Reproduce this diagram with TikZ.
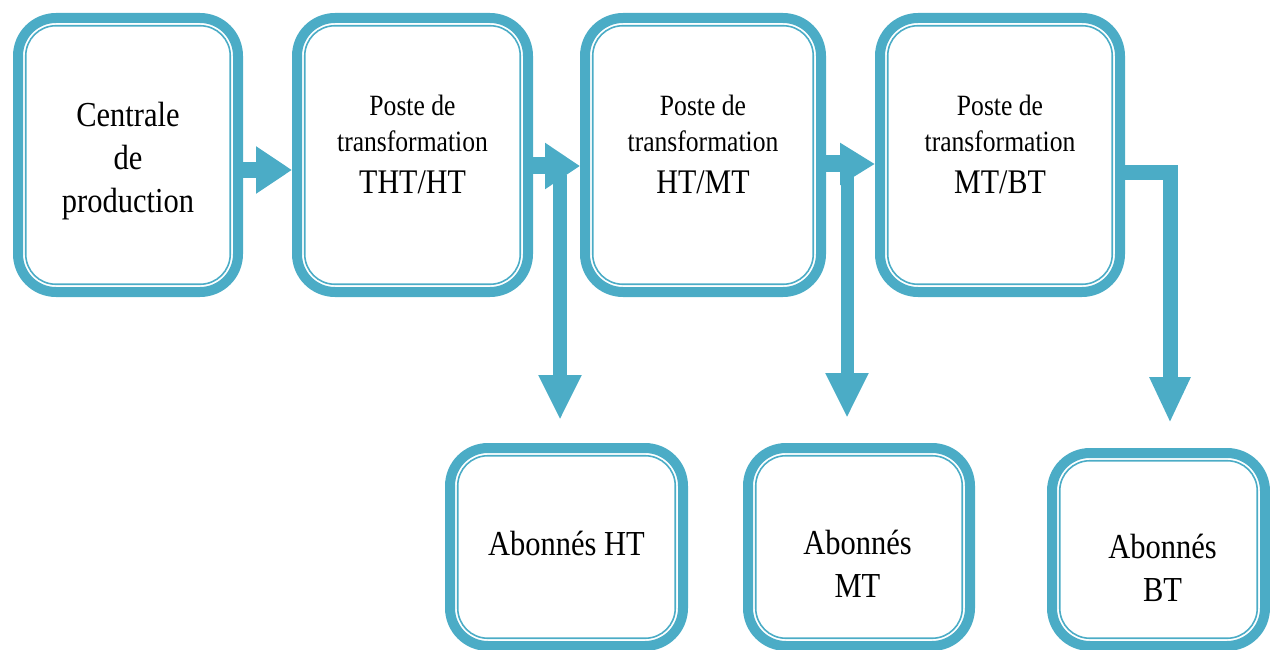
\documentclass[tikz,border=0pt]{standalone}
\usepackage{fontspec}
\setmainfont{Liberation Serif}
\usepackage{graphicx}
\usetikzlibrary{arrows.meta}
\definecolor{aqua}{RGB}{75,172,198}
% slightly tall lettering
\newcommand\tall[1]{\scalebox{1}[1.15]{#1}}

\tikzset{
  stage/.style={draw=aqua, line width=10pt, rounded corners=38pt, inner sep=0pt,
    path picture={\draw[aqua, line width=1.6pt, rounded corners=30pt]
      ([shift={(7.75pt,-7.75pt)}]path picture bounding box.north west) rectangle
      ([shift={(-7.75pt,7.75pt)}]path picture bounding box.south east);}},
  big/.style={font=\fontsize{30.5}{43}\selectfont, align=center, text=black},
  small/.style={font=\fontsize{25.6}{36}\selectfont, align=center, text=black},
  flow/.style={draw=aqua, line width=17pt, -{Triangle[width=44pt,length=35pt]}},
  drop/.style={draw=aqua, line width=14pt, -{Triangle[width=40pt,length=45pt]}},
}

\begin{document}
\begin{tikzpicture}[x=1pt, y=-1pt]
\useasboundingbox (0,0) rectangle (1270,650);

% production chain
\node[stage, minimum width=220pt, minimum height=274pt,
  label={[big, yshift=-6.5pt]center:{\tall{Centrale}\\\tall{de}\\\tall{production}}}]
  (cp) at (128,155) {};
\node[stage, minimum width=231pt, minimum height=274pt,
  label={[small, yshift=10.5pt]center:{\tall{Poste de}\\\tall{transformation}\\[6pt]{\fontsize{30}{42}\selectfont\tall{THT/HT}}}}]
  (p1) at (412.5,155) {};
\node[stage, minimum width=236pt, minimum height=274pt,
  label={[small, yshift=10.5pt]center:{\tall{Poste de}\\\tall{transformation}\\[6pt]{\fontsize{30}{42}\selectfont\tall{HT/MT}}}}]
  (p2) at (703,155) {};
\node[stage, minimum width=240pt, minimum height=274pt,
  label={[small, yshift=10.5pt]center:{\tall{Poste de}\\\tall{transformation}\\[6pt]{\fontsize{30}{42}\selectfont\tall{MT/BT}}}}]
  (p3) at (1000,155) {};

% subscribers
\node[stage, minimum width=233pt, minimum height=198pt,
  label={[big, yshift=3.5pt]center:{\tall{Abonnés HT}}}]
  (aht) at (566.5,547) {};
\node[stage, minimum width=222pt, minimum height=198pt,
  label={[big, yshift=-16.5pt, xshift=-1.5pt]center:{\tall{Abonnés}\\\tall{MT}}}]
  (amt) at (859,547) {};
\node[stage, minimum width=213pt, minimum height=193pt,
  label={[big, yshift=-18.5pt, xshift=4pt]center:{\tall{Abonnés}\\\tall{BT}}}]
  (abt) at (1158.5,549.5) {};

% arrows along the chain
\draw[flow, line width=16pt, -{Triangle[width=45pt,length=36pt]}]
  ([yshift=-15pt]cp.east) -- ([yshift=-15pt]p1.west);
\draw[flow] ([yshift=-11pt]p1.east) -- ([yshift=-11pt]p2.west);
\draw[flow, -{Triangle[width=40pt,length=35pt]}]
  ([yshift=-9pt]p2.east) -- ([yshift=-9pt]p3.west);

% branches down to the subscribers
\coordinate (j1) at (560,175);
\coordinate (j2) at (847,175);
\coordinate (k3) at (1170,172.5);
\draw[drop, shorten >=23pt] (j1) -- (j1 |- aht.north);
\draw[drop, line width=13pt, shorten >=25pt] (j2) -- (j2 |- amt.north);
\draw[drop, line width=15pt, -{Triangle[width=38pt,length=46pt]}, shorten >=25pt]
  (p3.east |- k3) -- (k3) -- (k3 |- abt.north);
\end{tikzpicture}
\end{document}
